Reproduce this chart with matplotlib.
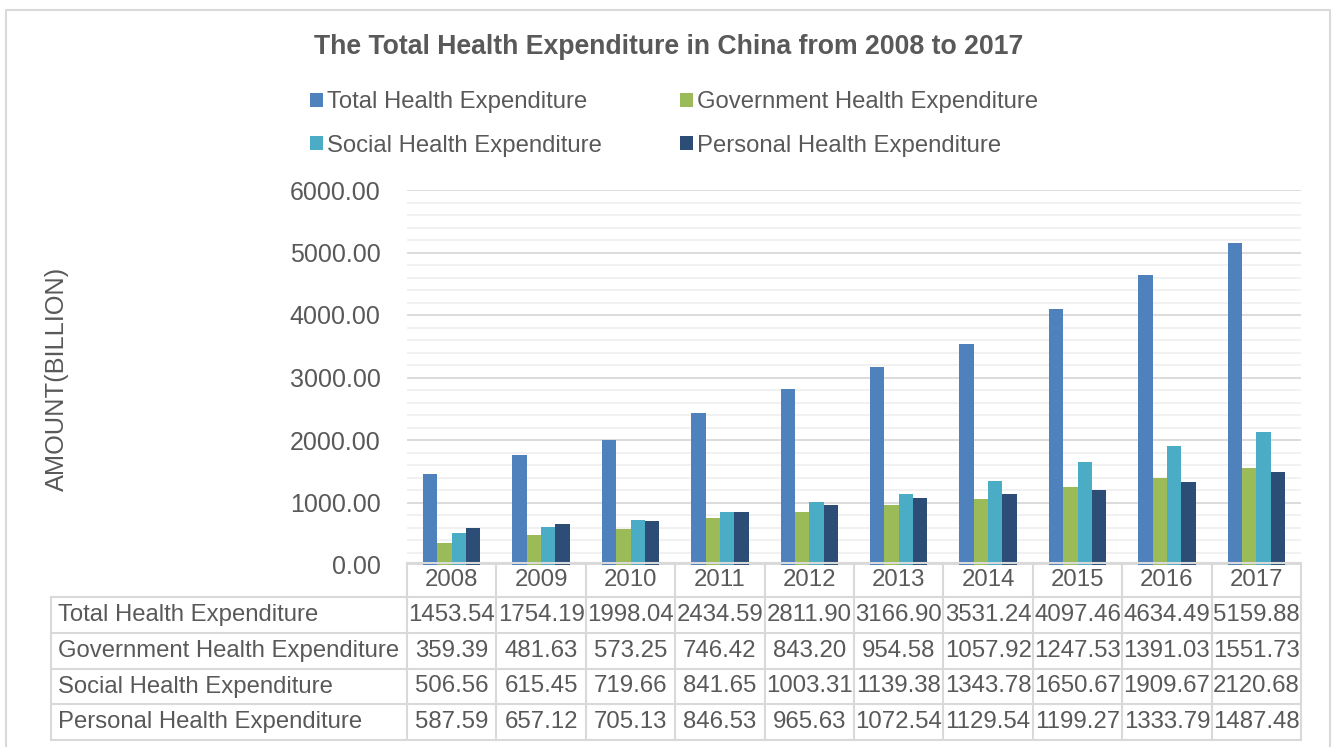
import matplotlib

matplotlib.use("Agg")
import matplotlib.pyplot as plt
import numpy as np
from matplotlib.patches import Patch, Rectangle
from matplotlib.transforms import blended_transform_factory

plt.rcParams["font.family"] = ["Liberation Sans", "DejaVu Sans"]

years = ["2008", "2009", "2010", "2011", "2012", "2013", "2014", "2015", "2016", "2017"]
series_names = [
    "Total Health Expenditure",
    "Government Health Expenditure",
    "Social Health Expenditure",
    "Personal Health Expenditure",
]
total = [1453.54, 1754.19, 1998.04, 2434.59, 2811.90, 3166.90, 3531.24, 4097.46, 4634.49, 5159.88]
government = [359.39, 481.63, 573.25, 746.42, 843.20, 954.58, 1057.92, 1247.53, 1391.03, 1551.73]
social = [506.56, 615.45, 719.66, 841.65, 1003.31, 1139.38, 1343.78, 1650.67, 1909.67, 2120.68]
personal = [587.59, 657.12, 705.13, 846.53, 965.63, 1072.54, 1129.54, 1199.27, 1333.79, 1487.48]

series = [total, government, social, personal]
colors = ["#4F81BD", "#9BBB59", "#4BACC6", "#2C4D75"]

TEXT = "#595959"
GRID = "#D9D9D9"
MINOR = "#F0F0F0"

W, H = 1335, 747
fig = plt.figure(figsize=(W / 100, H / 100), dpi=100)


def fx(px):
    return px / W


def fy(py):
    return 1 - py / H


# chart area border
fig.patches.append(
    Rectangle((fx(6), fy(760)), fx(1330) - fx(6), fy(10) - fy(760),
              transform=fig.transFigure, fill=False, edgecolor=GRID, linewidth=1.5)
)

ax = fig.add_axes([fx(407), fy(565), fx(1301) - fx(407), fy(190) - fy(565)])

n = len(years)
x = np.arange(n) + 0.5
bar_w = 0.16
for k, (vals, col) in enumerate(zip(series, colors)):
    ax.bar(x + (k - 1.5) * bar_w, vals, width=bar_w, color=col, zorder=3)

ax.set_xlim(0, n)
ax.set_ylim(0, 6000)
ax.set_yticks(np.arange(0, 6001, 1000))
ax.set_yticks(np.arange(0, 6001, 200), minor=True)
ax.set_yticklabels([f"{v:.2f}" for v in np.arange(0, 6001, 1000)])
ax.tick_params(axis="y", which="both", length=0, pad=19, labelsize=18, labelcolor=TEXT)
ax.tick_params(axis="x", which="both", length=0, labelbottom=False)
ax.grid(True, axis="y", which="minor", color=MINOR, linewidth=1.3, zorder=0)
ax.grid(True, axis="y", which="major", color=GRID, linewidth=1.3, zorder=1)
for s in ax.spines.values():
    s.set_visible(False)

fig.text(0.501, fy(47), "The Total Health Expenditure in China from 2008 to 2017",
         ha="center", va="center", fontsize=19.2, fontweight="bold", color=TEXT)
fig.text(fx(57), fy(379), "AMOUNT(BILLION)", rotation=90, ha="center", va="center",
         fontsize=18.3, color=TEXT)

# legend: row-major order in the reference, matplotlib fills by column
order = [0, 2, 1, 3]
handles = [Patch(facecolor=colors[i], edgecolor="none") for i in order]
labels = [series_names[i] for i in order]
fig.legend(handles, labels, ncol=2, loc="center", bbox_to_anchor=(fx(674), fy(124)),
           frameon=False, fontsize=17.2, labelcolor=TEXT, handlelength=0.55,
           handleheight=0.55, handletextpad=0.15, columnspacing=3.3, labelspacing=0.9)

# data table under the axis
row_edges = [563, 597, 633, 669, 704, 740]
label_left = 51
bt = blended_transform_factory(ax.transData, fig.transFigure)
line_kw = dict(color=GRID, linewidth=1.5, zorder=5)

# header row (year cells only)
ax.plot([0, n], [fy(row_edges[0])] * 2, transform=bt, clip_on=False, **line_kw)
for i in range(n + 1):
    ax.plot([i, i], [fy(row_edges[0]), fy(row_edges[-1])], transform=bt, clip_on=False, **line_kw)
for i, yr in enumerate(years):
    ax.text(i + 0.5, fy((row_edges[0] + row_edges[1]) / 2), yr, transform=bt,
            ha="center", va="center", fontsize=17.3, color=TEXT)

# body rows span the label column as well
for e in row_edges[1:]:
    fig.add_artist(plt.Line2D([fx(label_left), fx(1301)], [fy(e)] * 2,
                              transform=fig.transFigure, **line_kw))
fig.add_artist(plt.Line2D([fx(label_left)] * 2, [fy(row_edges[1]), fy(row_edges[-1])],
                          transform=fig.transFigure, **line_kw))

for r, (name, vals) in enumerate(zip(series_names, series)):
    yc = fy((row_edges[r + 1] + row_edges[r + 2]) / 2)
    fig.text(fx(58), yc, name, ha="left", va="center", fontsize=17.2, color=TEXT)
    for i, v in enumerate(vals):
        ax.text(i + 0.5, yc, f"{v:.2f}", transform=bt, ha="center", va="center",
                fontsize=17.3, color=TEXT)

fig.savefig("out.png", dpi=100)
